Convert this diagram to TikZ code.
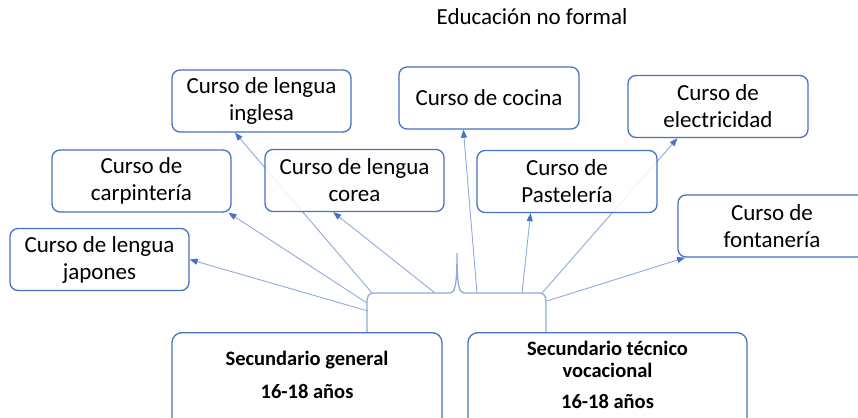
\documentclass[tikz,border=0pt]{standalone}
\usepackage{fontspec}
\setmainfont{Carlito}
\usetikzlibrary{arrows.meta,backgrounds}
\definecolor{boxblue}{HTML}{4472C4}
\definecolor{lineblue}{HTML}{8FAADC}

\begin{document}
\begin{tikzpicture}[x=1pt,y=-1pt,course/.style={draw=boxblue,line width=1.3pt,rounded corners=8pt,fill=white,fill opacity=0.85,text opacity=1,align=center,minimum width=179pt,minimum height=62pt,inner sep=2pt,font=\fontsize{23}{27}\selectfont},level/.style={draw=boxblue,line width=1.3pt,rounded corners=10pt,fill=white,align=center,anchor=north,text depth=80pt,font=\bfseries\fontsize{20.5}{22}\selectfont},arrow/.style={draw=lineblue,line width=0.9pt,-{Triangle[length=8pt,width=6pt,color=boxblue]}},brace/.style={draw=lineblue,line width=1.3pt}]
  \useasboundingbox (0,0) rectangle (858,417);
  \clip (0,0) rectangle (858,417);
  \node[anchor=base,font=\fontsize{23}{27}\selectfont] (title) at (532,25) {Educación no formal};
  % left courses
  \node[course] (japones) at (99.5,259.5) {Curso de lengua\\japones};
  \node[course] (carpinteria) at (141.5,181) {Curso de\\carpintería};
  \node[course] (inglesa) at (261.5,101) {Curso de lengua\\inglesa};
  \node[course] (corea) at (354.5,180.5) {Curso de lengua\\corea};
  % right courses
  \node[course,minimum width=180pt] (cocina) at (489,98) {Curso de cocina};
  \node[course,minimum width=180pt] (pasteleria) at (567,181.5) {Curso de\\Pastelería};
  \node[course,minimum width=180pt] (electricidad) at (718,106.5) {Curso de\\electricidad};
  \node[course,minimum width=188pt] (fontaneria) at (772,226) {Curso de\\fontanería};
  % levels
  \node[level,minimum width=270pt,inner ysep=18.5pt] (general) at (307,332) {Secundario general\\[11pt]16-18 años};
  \node[level,minimum width=279pt,inner ysep=8.5pt] (tecnico) at (607.5,332) {Secundario técnico\\vocacional\\[9pt]16-18 años};
  % brace
  \draw[brace] (general.north -| 367,0) -- (367,302) .. controls (367,296) and (369,293) .. (374,293) -- (450,293) .. controls (455,293) and (457,285) .. (457,253) .. controls (457,285) and (459,293) .. (464,293) -- (539,293) .. controls (544,293) and (546,296) .. (546,302) -- (tecnico.north -| 546,0);
  \coordinate (b1) at (368,311);
  \coordinate (b2) at (367,303);
  \coordinate (b3) at (372,293);
  \coordinate (b4) at (435,293);
  \coordinate (b5) at (477,293);
  \coordinate (b6) at (522,293);
  \coordinate (b7) at (542,293);
  \coordinate (b8) at (547,301);
  \begin{scope}[on background layer]
    \draw[arrow] (b1) -- (japones.east);
    \draw[arrow] (b2) -- (carpinteria.-20);
    \draw[arrow] (b3) -- (inglesa.-130);
    \draw[arrow] (b4) -- (corea.-124);
    \draw[arrow] (b5) -- (cocina.-129);
    \draw[arrow] (b6) -- (pasteleria.-139);
    \draw[arrow] (b7) -- (electricidad.-142);
    \draw[arrow] (b8) -- (fontaneria.-160);
  \end{scope}
\end{tikzpicture}
\end{document}
